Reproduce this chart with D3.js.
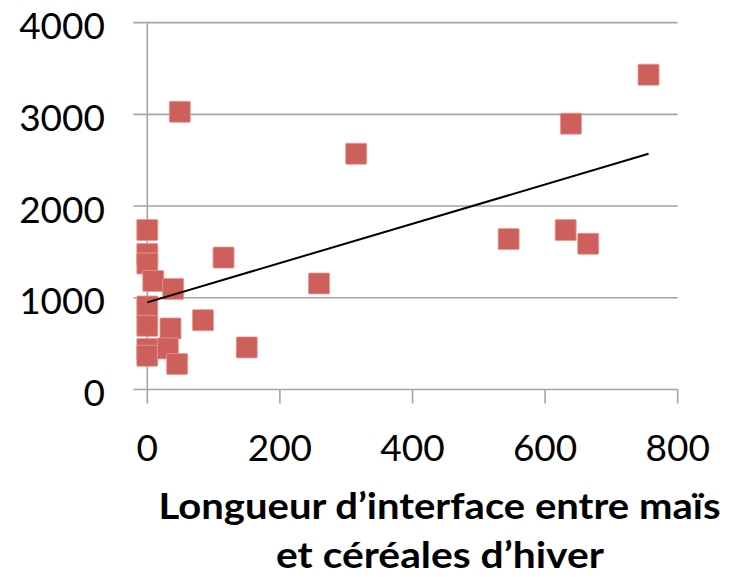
<!DOCTYPE html>
<html>
<head>
<meta charset="utf-8">
<script src="https://cdn.jsdelivr.net/npm/d3@7"></script>
<style>
  html, body { margin: 0; padding: 0; background: #fff; }
  svg { display: block; }
</style>
</head>
<body>
<svg id="chart" width="731" height="577"></svg>
<script>
// ---- data ----
const xValues = [0, 0, 0, 9, 39, 0, 0, 35, 84, 0, 0, 31, 45, 150, 49, 315, 115, 259, 545, 631, 665, 639, 756];
const yValues = [1739, 1478, 1373, 1184, 1097, 905, 694, 666, 756, 441, 368, 448, 277, 459, 3027, 2570, 1438, 1156, 1640, 1738, 1589, 2898, 3432];
const trendX = [0, 756];
const trendY = [950, 2570];
const xTicks = [0, 200, 400, 600, 800];
const yTicks = [0, 1000, 2000, 3000, 4000];
const titleLines = ["Longueur d\u2019interface entre maïs", "et céréales d\u2019hiver"];

// ---- layout ----
const svg = d3.select("#chart");
const x = d3.scaleLinear().domain([0, 800]).range([147.3, 677.7]);
const y = d3.scaleLinear().domain([0, 4000]).range([389.5, 22.6]);
const gridColor = "#A5A5A5";
const tickLen = 14;

// horizontal gridlines (incl. zero line) with left ticks
svg.append("g").selectAll("line").data(yTicks).join("line")
  .attr("x1", x(0) - tickLen).attr("x2", x(800))
  .attr("y1", d => y(d)).attr("y2", d => y(d))
  .attr("stroke", gridColor).attr("stroke-width", 1.6);

// y axis line
svg.append("line")
  .attr("x1", x(0)).attr("x2", x(0))
  .attr("y1", y(4000)).attr("y2", y(0) + tickLen)
  .attr("stroke", gridColor).attr("stroke-width", 1.6);

// x ticks
svg.append("g").selectAll("line").data(xTicks.filter(d => d > 0)).join("line")
  .attr("x1", d => x(d)).attr("x2", d => x(d))
  .attr("y1", y(0)).attr("y2", y(0) + tickLen)
  .attr("stroke", gridColor).attr("stroke-width", 1.6);

// y labels
svg.append("g").selectAll("text").data(yTicks).join("text")
  .attr("x", 105).attr("y", d => y(d) + 16.5)
  .attr("text-anchor", "end")
  .attr("font-family", "Lato, 'Open Sans', sans-serif")
  .attr("font-size", 37)
  .attr("fill", "#000")
  .text(d => d);

// x labels
svg.append("g").selectAll("text").data(xTicks).join("text")
  .attr("x", d => x(d)).attr("y", 461)
  .attr("text-anchor", "middle")
  .attr("font-family", "Lato, 'Open Sans', sans-serif")
  .attr("font-size", 37)
  .attr("fill", "#000")
  .text(d => d);

// points
const pts = xValues.map((v, i) => ({ x: v, y: yValues[i] }));
const sz = 21;
svg.append("g").selectAll("rect").data(pts).join("rect")
  .attr("x", d => x(d.x) - sz / 2).attr("y", d => y(d.y) - sz / 2)
  .attr("width", sz).attr("height", sz)
  .attr("rx", 1)
  .attr("fill", "#CD605B")
  .attr("stroke", "#E39A96").attr("stroke-width", 0.8);

// trend line
svg.append("line")
  .attr("x1", x(trendX[0])).attr("y1", y(trendY[0]))
  .attr("x2", x(trendX[1])).attr("y2", y(trendY[1]))
  .attr("stroke", "#000").attr("stroke-width", 2);

// axis title
svg.append("text")
  .attr("x", 439.5).attr("y", 519.3)
  .attr("text-anchor", "middle")
  .attr("font-family", "Lato, 'Open Sans', sans-serif")
  .attr("font-weight", "bold")
  .attr("font-size", 36)
  .attr("textLength", 562).attr("lengthAdjust", "spacingAndGlyphs")
  .text(titleLines[0]);
svg.append("text")
  .attr("x", 440).attr("y", 568)
  .attr("text-anchor", "middle")
  .attr("font-family", "Lato, 'Open Sans', sans-serif")
  .attr("font-weight", "bold")
  .attr("font-size", 36)
  .attr("textLength", 328).attr("lengthAdjust", "spacingAndGlyphs")
  .text(titleLines[1]);
</script>
</body>
</html>
